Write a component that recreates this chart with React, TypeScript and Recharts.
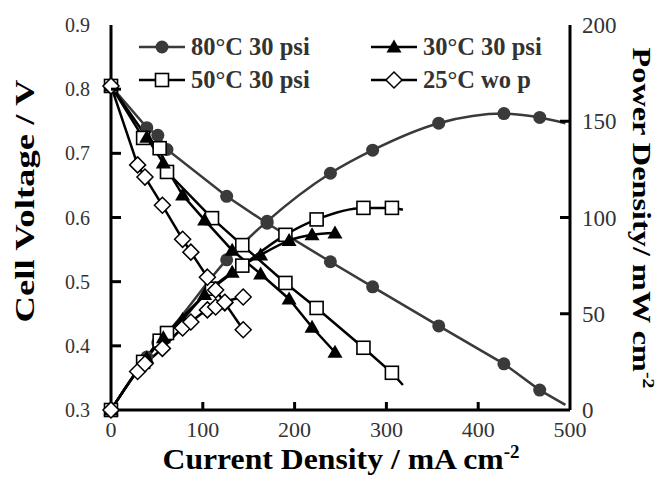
import { ComposedChart, Line, XAxis, YAxis } from "recharts";

const X_TICKS = [0, 100, 200, 300, 400, 500];
const V_TICKS = [0.3, 0.4, 0.5, 0.6, 0.7, 0.8, 0.9];
const P_TICKS = [0, 50, 100, 150, 200];

// 80°C 30 psi
const X80 = [0, 39, 51, 61, 126, 170, 239, 285, 357, 428, 467];
const V80 = [0.805, 0.74, 0.728, 0.706, 0.633, 0.591, 0.531, 0.492, 0.431, 0.372, 0.331];
const P80 = [0, 27.5, 35, 40, 78, 98, 123, 135, 149, 154, 152];
// 50°C 30 psi
const X50 = [0, 35, 53, 61, 110, 143, 190, 224, 275, 306];
const V50 = [0.805, 0.724, 0.708, 0.671, 0.599, 0.557, 0.498, 0.459, 0.397, 0.358];
const P50 = [0, 25, 36, 40, 63, 75, 91, 99, 105, 105];
// 30°C 30 psi
const X30 = [0, 39, 57, 78, 102, 132, 163, 194, 219, 244];
const V30 = [0.805, 0.725, 0.685, 0.635, 0.596, 0.549, 0.512, 0.473, 0.429, 0.39];
const P30 = [0, 27, 37.5, 47, 60, 71.5, 80.5, 88, 91, 92];
// 25°C wo p
const X25 = [0, 29, 37, 56, 78, 87, 105, 114, 124, 144];
const V25 = [0.805, 0.682, 0.663, 0.619, 0.566, 0.546, 0.507, 0.487, 0.467, 0.425];
const P25 = [0, 20, 24, 32, 42.6, 45.7, 52, 53.5, 56, 58.7];

// fitted lines run a bit past the last measured point (x, V, P), no marker there
const TAIL80 = [495, 0.308, 149];
const TAIL50 = [318, 0.339, 104];

const GRAY = "#3a3a3a";
const FONT = "'Liberation Serif', 'Times New Roman', serif";

type Pt = { x: number; v: number; p: number; fit?: boolean };

const build = (xs: number[], vs: number[], ps: number[], tail?: number[]): Pt[] => {
  const pts: Pt[] = xs.map((x, i) => ({ x, v: vs[i], p: ps[i] }));
  if (tail) pts.push({ x: tail[0], v: tail[1], p: tail[2], fit: true });
  return pts;
};

const d80 = build(X80, V80, P80, TAIL80);
const d50 = build(X50, V50, P50, TAIL50);
const d30 = build(X30, V30, P30);
const d25 = build(X25, V25, P25);

type Shape = "circle" | "square" | "triangle" | "diamond";

const Marker = ({ shape, x, y }: { shape: Shape; x: number; y: number }) => {
  if (shape === "circle") return <circle cx={x} cy={y} r={6.5} fill={GRAY} />;
  if (shape === "triangle")
    return <path d={`M${x},${y - 7.5}L${x + 7.5},${y + 5.5}L${x - 7.5},${y + 5.5}Z`} fill="#000" />;
  if (shape === "square")
    return <rect x={x - 6.5} y={y - 6.5} width={13} height={13} fill="#fff" stroke="#000" strokeWidth={1.6} />;
  return <path d={`M${x},${y - 8}L${x + 8},${y}L${x},${y + 8}L${x - 8},${y}Z`} fill="#fff" stroke="#000" strokeWidth={1.5} />;
};

const dot = (shape: Shape) => (props: any) => {
  const { cx, cy, payload, index } = props;
  if (payload.fit || cx == null || cy == null) return <g key={index} />;
  return <Marker key={index} shape={shape} x={cx} y={cy} />;
};

const BottomTick = ({ x, y, payload }: any) => (
  <g>
    {payload.value > 0 && payload.value < 500 && (
      <line x1={x} x2={x} y1={y} y2={y - 8} stroke="#000" strokeWidth={3} />
    )}
    <text x={x} y={y + 27} textAnchor="middle" fontSize={22} fontFamily={FONT} fill="#333">
      {payload.value}
    </text>
  </g>
);

const TopTick = ({ x, y, payload }: any) =>
  payload.value > 0 && payload.value < 500 ? (
    <line x1={x} x2={x} y1={y} y2={y + 8} stroke="#000" strokeWidth={3} />
  ) : (
    <g />
  );

const LeftTick = ({ x, y, payload }: any) => (
  <g>
    {payload.value > 0.35 && payload.value < 0.85 && (
      <line x1={x} x2={x + 10} y1={y} y2={y} stroke="#000" strokeWidth={3} />
    )}
    <text x={x - 21} y={y + 7} textAnchor="end" fontSize={20} fontFamily={FONT} fill="#333">
      {payload.value.toFixed(1)}
    </text>
  </g>
);

const RightTick = ({ x, y, payload }: any) => (
  <g>
    {payload.value > 0 && payload.value < 200 && (
      <line x1={x} x2={x - 10} y1={y} y2={y} stroke="#000" strokeWidth={3} />
    )}
    <text x={x + 12} y={y + 8} textAnchor="start" fontSize={23} fontFamily={FONT} fill="#333">
      {payload.value}
    </text>
  </g>
);

const LEGEND: { label: string; shape: Shape; color: string; x: number; y: number }[] = [
  { label: "80°C 30 psi", shape: "circle", color: GRAY, x: 139, y: 47 },
  { label: "50°C 30 psi", shape: "square", color: "#000", x: 139, y: 80 },
  { label: "30°C 30 psi", shape: "triangle", color: "#000", x: 371, y: 47 },
  { label: "25°C wo p", shape: "diamond", color: "#000", x: 371, y: 80 },
];

const series: { data: Pt[]; shape: Shape; color: string }[] = [
  { data: d80, shape: "circle", color: GRAY },
  { data: d50, shape: "square", color: "#000" },
  { data: d30, shape: "triangle", color: "#000" },
  { data: d25, shape: "diamond", color: "#000" },
];

export default function App() {
  return (
    <div style={{ position: "absolute", left: 0, top: 0, background: "#fff" }}>
      <ComposedChart width={660} height={478} margin={{ top: 25, right: 0, bottom: 0, left: 0 }}>
        <XAxis
          xAxisId="b"
          type="number"
          dataKey="x"
          domain={[0, 500]}
          ticks={X_TICKS}
          interval={0}
          height={68}
          tickSize={0}
          tickMargin={0}
          tickLine={false}
          axisLine={{ stroke: "#000", strokeWidth: 3 }}
          tick={<BottomTick />}
        />
        <XAxis
          xAxisId="t"
          orientation="top"
          type="number"
          dataKey="x"
          domain={[0, 500]}
          ticks={X_TICKS}
          interval={0}
          height={0}
          tickSize={0}
          tickMargin={0}
          tickLine={false}
          axisLine={{ stroke: "#000", strokeWidth: 3 }}
          tick={<TopTick />}
        />
        <YAxis
          yAxisId="v"
          orientation="left"
          type="number"
          domain={[0.3, 0.9]}
          ticks={V_TICKS}
          interval={0}
          width={111}
          tickSize={0}
          tickMargin={0}
          tickLine={false}
          axisLine={{ stroke: "#000", strokeWidth: 3 }}
          tick={<LeftTick />}
        />
        <YAxis
          yAxisId="p"
          orientation="right"
          type="number"
          domain={[0, 200]}
          ticks={P_TICKS}
          interval={0}
          width={90}
          tickSize={0}
          tickMargin={0}
          tickLine={false}
          axisLine={{ stroke: "#000", strokeWidth: 3 }}
          tick={<RightTick />}
        />

        {series.map((s) => [
          <Line
            key={s.shape + "v"}
            xAxisId="b"
            yAxisId="v"
            data={s.data}
            dataKey="v"
            type="linear"
            stroke={s.color}
            strokeWidth={2.5}
            dot={dot(s.shape)}
            activeDot={false}
            isAnimationActive={false}
          />,
          <Line
            key={s.shape + "p"}
            xAxisId="b"
            yAxisId="p"
            data={s.data}
            dataKey="p"
            type="monotone"
            stroke={s.color}
            strokeWidth={2.5}
            dot={dot(s.shape)}
            activeDot={false}
            isAnimationActive={false}
          />,
        ])}

        <g fontFamily={FONT} fontWeight="bold">
          {LEGEND.map((l) => (
            <g key={l.label}>
              <line x1={l.x} x2={l.x + 46} y1={l.y} y2={l.y} stroke={l.color} strokeWidth={2.5} />
              <Marker shape={l.shape} x={l.x + 23} y={l.y} />
              <text x={l.x + 52} y={l.y + 8} fontSize={24.5} fill="#333">
                {l.label}
              </text>
            </g>
          ))}
          <text
            transform="translate(34,201) rotate(-90)"
            textAnchor="middle"
            fontSize={28}
            textLength={243}
            lengthAdjust="spacingAndGlyphs"
            fill="#000"
          >
            Cell Voltage / V
          </text>
          <text
            transform="translate(633,218) rotate(90)"
            textAnchor="middle"
            fontSize={26}
            textLength={341}
            lengthAdjust="spacingAndGlyphs"
            fill="#000"
          >
            Power Density/ mW cm<tspan dy={-10} fontSize={16}>-2</tspan>
          </text>
          <text
            x={341}
            y={469}
            textAnchor="middle"
            fontSize={30}
            textLength={357}
            lengthAdjust="spacingAndGlyphs"
            fill="#000"
          >
            Current Density / mA cm<tspan dy={-11} fontSize={18}>-2</tspan>
          </text>
        </g>
      </ComposedChart>
    </div>
  );
}
